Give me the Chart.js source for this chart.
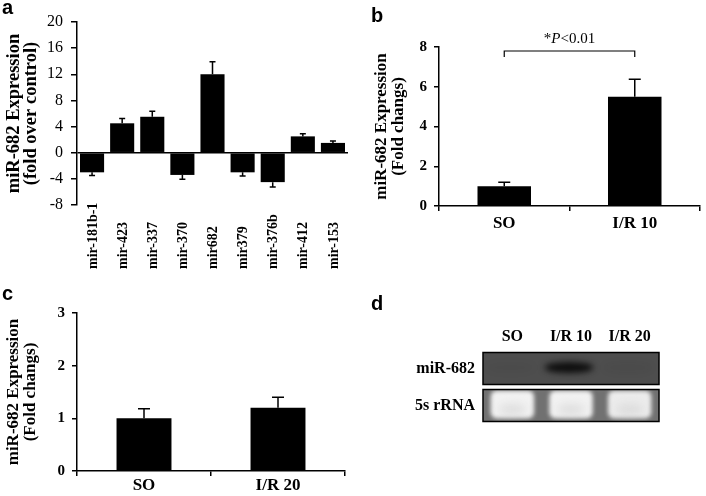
<!DOCTYPE html>
<html>
<head>
<meta charset="utf-8">
<script src="https://cdn.jsdelivr.net/npm/chart.js@4"></script>
<style>
body { margin: 0; background: #fff; }
#page { position: relative; width: 706px; height: 496px; overflow: hidden; background: #fff; }
canvas { position: absolute; }
.tag { position: absolute; font: bold 20px "Liberation Sans", Arial, sans-serif; line-height: 20px; color: #000; }
</style>
</head>
<body>
<div id="page">
  <canvas id="chartA" width="360" height="300" style="left:0;top:0"></canvas>
  <canvas id="chartB" width="346" height="250" style="left:360px;top:0"></canvas>
  <canvas id="chartC" width="360" height="236" style="left:0;top:260px"></canvas>
  <canvas id="chartD" width="346" height="236" style="left:360px;top:260px"></canvas>
  <div class="tag" style="left:2px;top:-3px">a</div>
  <div class="tag" style="left:371px;top:5px">b</div>
  <div class="tag" style="left:2px;top:283px">c</div>
  <div class="tag" style="left:371px;top:293px">d</div>
</div>
<script>
// panel a - miRNA screen
const mirLabels = ['mir-181b-1', 'mir-423', 'mir-337', 'mir-370', 'mir682', 'mir379', 'mir-376b', 'mir-412', 'mir-153'];
const mirValues = [-3.0, 4.5, 5.5, -3.4, 12.0, -3.0, -4.5, 2.5, 1.5];
const mirErrors = [0.5, 0.75, 0.85, 0.65, 1.9, 0.55, 0.75, 0.42, 0.3];

// panel b - SO vs I/R 10
const ir10Labels = ['SO', 'I/R 10'];
const ir10Values = [1.0, 5.5];
const ir10Errors = [0.2, 0.88];
const pText = ['*', 'P', '<0.01'];

// panel c - SO vs I/R 20
const ir20Labels = ['SO', 'I/R 20'];
const ir20Values = [1.0, 1.2];
const ir20Errors = [0.18, 0.2];

// panel d - northern blot
const laneLabels = ['SO', 'I/R 10', 'I/R 20'];
const blotRows = ['miR-682', '5s rRNA'];
const mirBand = [0.03, 1, 0.05];
const rrnaBand = [1, 1, 0.95];

const serif = '"Liberation Serif", "Times New Roman", serif';
Chart.defaults.font.family = serif;
Chart.defaults.color = '#000';

const errorBars = {
    id: 'errorBars',
    afterDatasetsDraw(chart, args, opts) {
        const ds = chart.data.datasets[0];
        const meta = chart.getDatasetMeta(0);
        const y = chart.scales.y;
        const ctx = chart.ctx;
        ctx.save();
        ctx.strokeStyle = '#000';
        ctx.lineWidth = 1.5;
        meta.data.forEach(function(bar, i) {
            const v = ds.data[i];
            const e = ds.errors[i];
            const end = y.getPixelForValue(v < 0 ? v - e : v + e);
            ctx.beginPath();
            ctx.moveTo(bar.x, bar.y);
            ctx.lineTo(bar.x, end);
            ctx.moveTo(bar.x - opts.cap, end);
            ctx.lineTo(bar.x + opts.cap, end);
            ctx.stroke();
        });
        ctx.restore();
    }
};

// rotated labels that start at a common baseline under the axis
const bottomLabels = {
    id: 'bottomLabels',
    afterDraw(chart, args, opts) {
        const x = chart.scales.x;
        const ctx = chart.ctx;
        ctx.save();
        ctx.font = 'bold 14px ' + serif;
        ctx.fillStyle = '#000';
        ctx.textAlign = 'left';
        ctx.textBaseline = 'middle';
        chart.data.labels.forEach(function(lab, i) {
            ctx.save();
            ctx.translate(x.getPixelForValue(i) + 1, chart.chartArea.bottom + opts.offset);
            ctx.rotate(-Math.PI / 2);
            ctx.fillText(lab, 0, 0);
            ctx.restore();
        });
        ctx.restore();
    }
};

const sigBracket = {
    id: 'sigBracket',
    afterDraw(chart, args, opts) {
        const x = chart.scales.x, y = chart.scales.y, ctx = chart.ctx;
        const x0 = x.getPixelForValue(0), x1 = x.getPixelForValue(1);
        const yb = y.getPixelForValue(opts.level), yf = y.getPixelForValue(opts.foot);
        ctx.save();
        ctx.strokeStyle = '#000';
        ctx.lineWidth = 1.2;
        ctx.beginPath();
        ctx.moveTo(x0, yf);
        ctx.lineTo(x0, yb);
        ctx.lineTo(x1, yb);
        ctx.lineTo(x1, yf);
        ctx.stroke();
        // text with italic P
        const fonts = ['15px ' + serif, 'italic 15px ' + serif, '15px ' + serif];
        let total = 0;
        const widths = pText.map(function(t, i) {
            ctx.font = fonts[i];
            const w = ctx.measureText(t).width;
            total += w;
            return w;
        });
        let cx = (x0 + x1) / 2 - total / 2;
        ctx.fillStyle = '#000';
        ctx.textAlign = 'left';
        ctx.textBaseline = 'middle';
        pText.forEach(function(t, i) {
            ctx.font = fonts[i];
            ctx.fillText(t, cx, yb - 12);
            cx += widths[i];
        });
        ctx.restore();
    }
};

const blot = {
    id: 'blot',
    beforeDatasetsDraw(chart) {
        const ctx = chart.ctx, ca = chart.chartArea;
        const x = chart.scales.x, y = chart.scales.y;
        const rowH = y.getPixelForValue(1) - y.getPixelForValue(0);
        const laneW = x.getPixelForValue(1) - x.getPixelForValue(0);
        const bands = [mirBand, rrnaBand];
        blotRows.forEach(function(row, r) {
            const yc = y.getPixelForValue(r);
            const top = yc - rowH / 2 + 2.5;
            const h = rowH - 5;
            ctx.save();
            ctx.beginPath();
            ctx.rect(ca.left, top, ca.right - ca.left, h);
            ctx.clip();
            ctx.fillStyle = r === 0 ? '#4e4e4e' : '#717171';
            ctx.fillRect(ca.left, top, ca.right - ca.left, h);
            bands[r].forEach(function(v, i) {
                const xc = x.getPixelForValue(i);
                if (r === 0) {
                    ctx.filter = 'blur(3px)';
                    ctx.fillStyle = 'rgba(12,12,12,' + v + ')';
                    ctx.beginPath();
                    ctx.ellipse(xc - 2, yc - 1, laneW * 0.42, 5.5, 0, 0, Math.PI * 2);
                    ctx.fill();
                } else {
                    const bw = laneW * 0.74;
                    ctx.filter = 'blur(2px)';
                    ctx.fillStyle = 'rgba(242,242,242,' + v + ')';
                    ctx.beginPath();
                    ctx.roundRect(xc - bw / 2, top + 1, bw, h - 4, 6);
                    ctx.fill();
                    ctx.filter = 'blur(4px)';
                    ctx.fillStyle = 'rgba(205,205,205,' + (v * 0.5) + ')';
                    ctx.beginPath();
                    ctx.ellipse(xc, yc + 4, bw * 0.32, 6, 0, 0, Math.PI * 2);
                    ctx.fill();
                }
            });
            ctx.restore();
            ctx.save();
            ctx.strokeStyle = '#000';
            ctx.lineWidth = 1.5;
            ctx.strokeRect(ca.left, top, ca.right - ca.left, h);
            ctx.restore();
        });
    }
};

function axisTitle(text, size, lh, pad) {
    return { display: true, text: text, font: { size: size, weight: 'bold', lineHeight: lh }, padding: { top: pad, bottom: 0 } };
}

// ---- panel a ----
new Chart(document.getElementById('chartA'), {
    type: 'bar',
    data: {
        labels: mirLabels,
        datasets: [{ data: mirValues, errors: mirErrors, backgroundColor: '#000', barPercentage: 0.8, categoryPercentage: 1.0 }]
    },
    options: {
        responsive: false,
        animation: false,
        layout: { padding: { top: 22, right: 12, left: 0, bottom: 0 } },
        plugins: { legend: { display: false }, tooltip: { enabled: false }, errorBars: { cap: 3 }, bottomLabels: { offset: 64 } },
        scales: {
            x: {
                grid: { display: false },
                border: { display: false },
                ticks: { display: false },
                afterFit: function(s) { s.height = 95; }
            },
            y: {
                min: -8, max: 20,
                ticks: { stepSize: 4, font: { size: 16 }, padding: 8, color: '#000' },
                grid: {
                    color: function(c) { return c.tick && c.tick.value === 0 ? '#000' : 'rgba(0,0,0,0)'; },
                    lineWidth: 1.5, tickColor: '#000', tickLength: 6
                },
                border: { color: '#000', width: 1.5 },
                title: axisTitle(['miR-682 Expression', '(fold over control)'], 18.5, 0.9, 6),
                afterFit: function(s) { s.width = 77; }
            }
        }
    },
    plugins: [errorBars, bottomLabels]
});

// ---- panels b and c ----
function smallBar(id, labels, values, errors, maxY, layoutPad, yWidth, xHeight, titlePad, labelPad, extra, extraOpts) {
    const pluginOpts = { legend: { display: false }, tooltip: { enabled: false }, errorBars: { cap: 6 } };
    if (extraOpts) pluginOpts.sigBracket = extraOpts;
    new Chart(document.getElementById(id), {
        type: 'bar',
        data: {
            labels: labels,
            datasets: [{ data: values, errors: errors, backgroundColor: '#000', barPercentage: 0.41, categoryPercentage: 1.0 }]
        },
        options: {
            responsive: false,
            animation: false,
            layout: { padding: layoutPad },
            plugins: pluginOpts,
            scales: {
                x: {
                    grid: { drawOnChartArea: false, tickColor: '#000', tickLength: 5, lineWidth: 1.5, offset: true },
                    border: { color: '#000', width: 1.5 },
                    ticks: { font: { size: 17, weight: 'bold', lineHeight: 1 }, padding: labelPad, color: '#000' },
                    afterFit: function(s) { s.height = xHeight; }
                },
                y: {
                    min: 0, max: maxY,
                    ticks: { stepSize: maxY > 4 ? 2 : 1, font: { size: 15, weight: 'bold' }, padding: 7, color: '#000' },
                    grid: { drawOnChartArea: false, tickColor: '#000', tickLength: 5, lineWidth: 1.5 },
                    border: { color: '#000', width: 1.5 },
                    title: axisTitle(['miR-682 Expression', '(Fold changs)'], 17, 1, titlePad),
                    afterFit: function(s) { s.width = yWidth; }
                }
            }
        },
        plugins: extra
    });
}

smallBar('chartB', ir10Labels, ir10Values, ir10Errors, 8,
    { top: 47, right: 6, left: 0, bottom: 0 }, 79, 44, 13.5, 4.5,
    [errorBars, sigBracket], { level: 7.8, foot: 7.5 });

smallBar('chartC', ir20Labels, ir20Values, ir20Errors, 3,
    { top: 53, right: 15, left: 0, bottom: 0 }, 77, 25, 5.5, 1.5,
    [errorBars]);

// ---- panel d ----
new Chart(document.getElementById('chartD'), {
    type: 'line',
    data: { labels: laneLabels, datasets: [{ data: [] }] },
    options: {
        responsive: false,
        animation: false,
        layout: { padding: { top: 0, right: 47, bottom: 72, left: 0 } },
        plugins: { legend: { display: false }, tooltip: { enabled: false } },
        scales: {
            x: {
                type: 'category',
                labels: laneLabels,
                position: 'top',
                offset: true,
                grid: { display: false, drawTicks: false },
                border: { display: false },
                ticks: { font: { size: 16, weight: 'bold' }, padding: 4, color: '#000', maxRotation: 0, autoSkip: false },
                afterFit: function(s) { s.height = 90; }
            },
            y: {
                type: 'category',
                labels: blotRows,
                offset: true,
                grid: { display: false, drawTicks: false },
                border: { display: false },
                ticks: { font: { size: 16, weight: 'bold' }, padding: 8, color: '#000' },
                afterFit: function(s) { s.width = 123; }
            }
        }
    },
    plugins: [blot]
});
</script>
</body>
</html>
